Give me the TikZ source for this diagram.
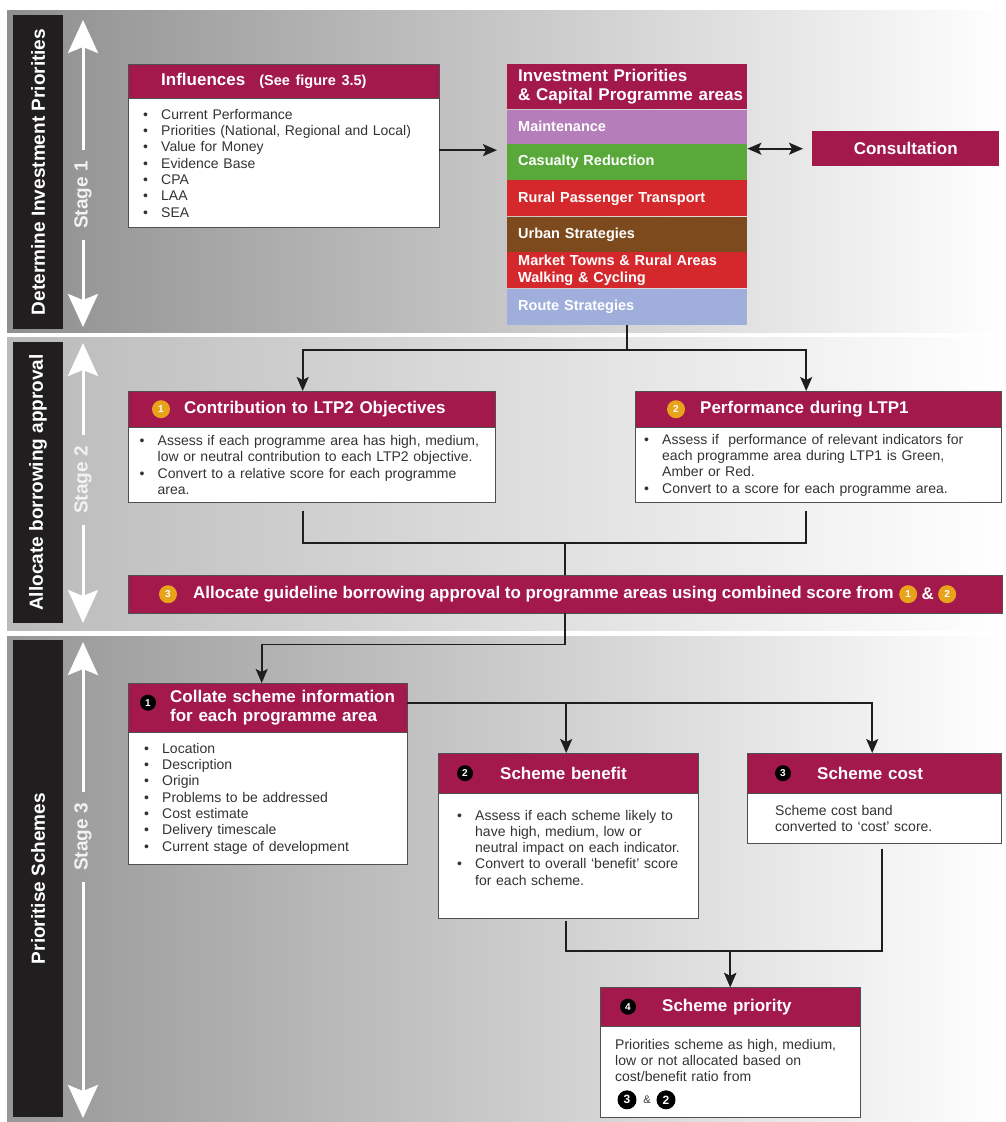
\documentclass[tikz,border=0pt]{standalone}
\usepackage{fontspec}
\setmainfont{Liberation Sans}
\usetikzlibrary{arrows.meta,positioning,calc}

\definecolor{crimson}{RGB}{163,25,75}
\definecolor{amber}{RGB}{233,163,27}
\definecolor{barblack}{RGB}{33,30,31}
\definecolor{edge}{RGB}{80,80,80}
\definecolor{ink}{RGB}{51,51,51}
\definecolor{wire}{RGB}{30,30,30}
\definecolor{lilac}{RGB}{181,126,186}
\definecolor{leaf}{RGB}{88,168,58}
\definecolor{signal}{RGB}{213,40,44}
\definecolor{bark}{RGB}{125,74,29}
\definecolor{sky}{RGB}{160,174,220}

\newcommand\bul{\makebox[18pt][l]{\textbullet}}
\newcommand\cnt{\hspace*{18pt}}

\tikzset{
	pad/.style={execute at begin node={\leftskip=#1\relax}},
	hdr/.style={anchor=north west, draw=edge, fill=crimson, text=white,
		inner xsep=0pt, inner ysep=2pt, align=left,
		font=\bfseries\fontsize{17}{19}\selectfont},
	hdrtext/.style={text=white, inner sep=0pt, font=\bfseries\fontsize{16.9}{19}\selectfont},
	bodybox/.style={draw=edge, fill=white, text=ink, inner xsep=0pt,
		inner ysep=2pt, align=left, font=\fontsize{14}{16.3}\selectfont},
	area/.style={inner xsep=0pt, inner ysep=2pt, text width=240pt, align=left,
		text=white, font=\bfseries\fontsize{14.5}{16.5}\selectfont, pad=11pt},
	numo/.style={circle, fill=amber, text=white, inner sep=0pt,
		minimum size=18pt, font=\bfseries\fontsize{10}{10}\selectfont},
	numk/.style={numo, fill=black, minimum size=16pt},
	link/.style={draw=wire, line width=1.6pt},
	flow/.style={link, ->},
	stagebar/.style={fill=barblack, text=white, rotate=90, minimum height=50pt,
		inner sep=0pt, font=\bfseries\fontsize{19}{19}\selectfont},
	stagetag/.style={text=gray!10, rotate=90, inner xsep=11pt, inner ysep=0pt,
		font=\bfseries\fontsize{19}{19}\selectfont},
	stagearrow/.style={draw=white, line width=3pt,
		-{Stealth[length=33pt,width=30pt,inset=6pt]}},
}

\begin{document}
\begin{tikzpicture}[x=1pt, y=-1pt, >={Stealth[length=14pt,width=12pt,inset=3pt]}]

	\useasboundingbox (0,0) rectangle (1005,1122);

	% stage bands
	\shade[left color=black!44, right color=white] (7,10) rectangle (1005,332);
	\shade[left color=black!27, right color=white] (7,337) rectangle (1005,630);
	\shade[left color=black!41, right color=white] (7,636) rectangle (1005,1122);

	% stage bars
	\node[stagebar, minimum width=314pt] (bar1) at (38,172) {Determine Investment Priorities};
	\node[stagebar, minimum width=281pt] (bar2) at (38,482.5) {Allocate borrowing approval};
	\node[stagebar, minimum width=477pt] (bar3) at (38,878.5) {Prioritise Schemes};

	% stage arrows
	\coordinate (top1) at (83,20);
	\coordinate (bot1) at (83,327);
	\coordinate (top2) at (83,343);
	\coordinate (bot2) at (83,623);
	\coordinate (top3) at (83,642);
	\coordinate (bot3) at (83,1118);
	\node[stagetag] (tag1) at (83,195) {Stage 1};
	\node[stagetag] (tag2) at (83,480) {Stage 2};
	\node[stagetag] (tag3) at (83,837) {Stage 3};
	\draw[stagearrow] (tag1.east) -- (top1);
	\draw[stagearrow] (tag1.west) -- (bot1);
	\draw[stagearrow] (tag2.east) -- (top2);
	\draw[stagearrow] (tag2.west) -- (bot2);
	\draw[stagearrow] (tag3.east) -- (top3);
	\draw[stagearrow] (tag3.west) -- (bot3);

	% stage 1
	\node[hdr, text width=311pt, minimum height=34pt, pad=33pt] (infl) at (128,64)
	{Influences\hspace{14pt}{\fontsize{14.5}{16}\selectfont(See figure 3.5)}};
	\node[bodybox, text width=311pt, minimum height=129pt, below=0pt of infl, pad=15pt] (inflbody)
	{\bul Current Performance\\\bul Priorities (National, Regional and Local)\\
	\bul Value for Money\\\bul Evidence Base\\\bul CPA\\\bul LAA\\\bul SEA};

	\node[hdr, draw=none, text width=240pt, minimum height=45pt, pad=11pt] (invest) at (507,64)
	{Investment Priorities\\\& Capital Programme areas};
	\node[area, fill=lilac, minimum height=34pt, below=0pt of invest] (maint) {Maintenance};
	\node[area, fill=leaf, minimum height=36pt, below=0pt of maint] (casualty) {Casualty Reduction};
	\node[area, fill=signal, minimum height=36pt, below=0pt of casualty] (rural) {Rural Passenger Transport};
	\node[area, fill=bark, minimum height=35pt, below=0pt of rural] (urban) {Urban Strategies};
	\node[area, fill=signal, minimum height=36pt, below=0pt of urban] (market)
	{Market Towns \& Rural Areas\\Walking \& Cycling};
	\node[area, fill=sky, minimum height=36pt, below=0pt of market] (route) {Route Strategies};

	\node[hdr, draw=none, text width=187pt, minimum height=35pt, align=center] (consult) at (812,131)
	{Consultation};

	\coordinate (inflout) at ($(inflbody.north east)!0.4!(inflbody.south east)$);
	\draw[flow, shorten >=10pt] (inflout) -- (inflout -| maint.west);
	\draw[link, <->, shorten >=9pt] (consult.west -| invest.east) -- (consult.west);

	% stage 2
	\node[hdr, text width=367pt, minimum height=36pt, pad=56pt] (contrib) at (128,391)
	{Contribution to LTP2 Objectives};
	\node[numo] (c1) at ([xshift=33pt]contrib.west) {1};
	\node[bodybox, text width=367pt, minimum height=75pt, below=0pt of contrib, pad=11.5pt] (contribbody)
	{\bul Assess if each programme area has high, medium,\\
	\cnt low or neutral contribution to each LTP2 objective.\\
	\bul Convert to a relative score for each programme\\
	\cnt area.};

	\node[hdr, text width=366pt, minimum height=36pt, pad=65pt] (perf) at (635,391)
	{Performance during LTP1};
	\node[numo] (c2) at ([xshift=41pt]perf.west) {2};
	\node[bodybox, text width=366pt, minimum height=75pt, below=0pt of perf, pad=9pt] (perfbody)
	{\bul Assess if~ performance of relevant indicators for\\
	\cnt each programme area during LTP1 is Green,\\
	\cnt Amber or Red.\\
	\bul Convert to a score for each programme area.};

	\node[hdr, text width=874pt, minimum height=38pt] (alloc) at (128,575) {};
	\node[numo] (a3) at ([xshift=40pt]alloc.west) {3};
	\node[hdrtext, anchor=west] (alloctxt) at ([xshift=65pt]alloc.west)
	{Allocate guideline borrowing approval to programme areas using combined score from};
	\node[numo, right=5pt of alloctxt] (a1) {1};
	\node[hdrtext, right=4pt of a1] (amp) {\&};
	\node[numo, right=4pt of amp] (a2) {2};

	\draw[flow] (route.south) -- ++(0,25) -| ([xshift=-9pt]contrib.north);
	\draw[flow] (route.south) -- ++(0,25) -| ([xshift=-12pt]perf.north);
	\draw[link, shorten <=8pt] ([xshift=-9pt]contribbody.south) -- ++(0,40) -| (alloc.north);
	\draw[link, shorten <=8pt] ([xshift=-12pt]perfbody.south) -- ++(0,40) -| (alloc.north);

	% stage 3
	\node[hdr, text width=279pt, minimum height=49pt, pad=42pt] (collate) at (128,683)
	{Collate scheme information\\for each programme area};
	\node[numk] (k1) at ([xshift=20pt,yshift=5pt]collate.west) {1};
	\node[bodybox, text width=279pt, minimum height=132pt, below=0pt of collate, pad=16pt] (collatebody)
	{\bul Location\\\bul Description\\\bul Origin\\\bul Problems to be addressed\\
	\bul Cost estimate\\\bul Delivery timescale\\\bul Current stage of development};

	\node[hdr, text width=260pt, minimum height=40pt, pad=62pt] (benefit) at (438,753) {Scheme benefit};
	\node[numk] (k2) at ([xshift=27pt]benefit.west) {2};
	\node[bodybox, text width=260pt, minimum height=125pt, below=0pt of benefit, pad=19pt] (benefitbody)
	{\bul Assess if each scheme likely to\\
	\cnt have high, medium, low or\\
	\cnt neutral impact on each indicator.\\
	\bul Convert to overall `benefit' score\\
	\cnt for each scheme.\rule[-17pt]{0pt}{1pt}};

	\node[hdr, text width=254pt, minimum height=40pt, pad=70pt] (cost) at (747,753) {Scheme cost};
	\node[numk] (k3) at ([xshift=36pt]cost.west) {3};
	\node[bodybox, text width=254pt, minimum height=50pt, below=0pt of cost, pad=28pt] (costbody)
	{Scheme cost band\\converted to `cost' score.};

	\node[hdr, text width=260pt, minimum height=39pt, pad=62pt] (priority) at (600,987) {Scheme priority};
	\node[numk] (k4) at ([xshift=28pt]priority.west) {4};
	\node[bodybox, text width=260pt, minimum height=91pt, below=0pt of priority, pad=15pt] (prioritybody)
	{Priorities scheme as high, medium,\\low or not allocated based on\\cost/benefit ratio from\\\rule{0pt}{22pt}};
	\node[numk, minimum size=19pt, font=\bfseries\fontsize{12}{12}\selectfont] (r3)
	at ([xshift=27pt,yshift=18pt]prioritybody.south west) {3};
	\node[text=ink, font=\fontsize{11}{11}\selectfont] (ramp)
	at ([xshift=47pt,yshift=18pt]prioritybody.south west) {\&};
	\node[numk, minimum size=19pt, font=\bfseries\fontsize{12}{12}\selectfont] (r2)
	at ([xshift=66pt,yshift=18pt]prioritybody.south west) {2};

	\draw[flow] (alloc.south) -- ++(0,31) -| ([xshift=-6pt]collate.north);
	\draw[flow] ([yshift=5pt]collate.east) -| ([xshift=-2pt]benefit.north);
	\draw[flow] ([yshift=5pt]collate.east) -| ([xshift=-2pt]cost.north);
	\draw[flow, shorten <=2pt] ([xshift=-2pt]benefitbody.south) -- ++(0,32) -| (priority.north);
	\draw[flow, shorten <=5pt] ([xshift=8pt]costbody.south) -- ++(0,107) -| (priority.north);

\end{tikzpicture}
\end{document}
